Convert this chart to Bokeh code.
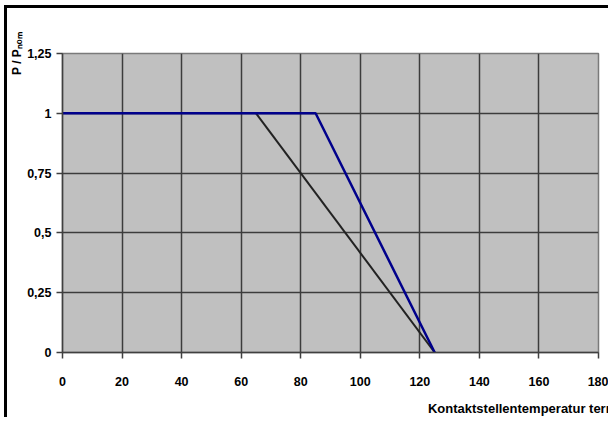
from bokeh.plotting import figure
from bokeh.models import FixedTicker, Range1d
from bokeh.embed import file_html
from bokeh.resources import INLINE

# data
x_ticks = [0, 20, 40, 60, 80, 100, 120, 140, 160, 180]
y_ticks = [0, 0.25, 0.5, 0.75, 1, 1.25]
y_tick_labels = ["0", "0,25", "0,5", "0,75", "1", "1,25"]

blue_x = [0, 85, 125]
blue_y = [1, 1, 0]
black_x = [65, 125]
black_y = [1, 0]

x_label = "Kontaktstellentemperatur terminal temperature T\u2096 / [°C]"
y_label = "P / P\u2099\u2092\u2098"

FONT = "Liberation Sans"

p = figure(width=604, height=412, output_backend="svg", toolbar_location=None,
           x_range=Range1d(0, 180), y_range=Range1d(0, 1.25),
           min_border_left=51, min_border_right=13, min_border_top=45, min_border_bottom=68,
           background_fill_color="#C0C0C0", border_fill_color="white")
p.styles = {"border-top": "3px solid black", "border-left": "3px solid black",
            "margin-left": "4px", "margin-top": "5px"}
p.outline_line_color = "#7a7a7a"
p.outline_line_width = 1.5

for ax in (p.xaxis, p.yaxis):
    ax.major_label_text_font = FONT
    ax.major_label_text_font_style = "bold"
    ax.major_label_text_font_size = "12.5px"
    ax.major_label_text_color = "black"
    ax.axis_line_color = "#404040"
    ax.axis_line_width = 1.5
    ax.major_tick_line_color = "#404040"
    ax.major_tick_line_width = 1.5
    ax.major_tick_in = 0
    ax.major_tick_out = 6
    ax.minor_tick_line_color = None
    ax.axis_label_text_font = FONT
    ax.axis_label_text_font_style = "bold"
    ax.axis_label_text_color = "black"
    ax.axis_label_align = "end"

p.xaxis.ticker = FixedTicker(ticks=x_ticks)
p.yaxis.ticker = FixedTicker(ticks=y_ticks)
p.yaxis.major_label_overrides = {t: l for t, l in zip(y_ticks, y_tick_labels)}
p.xaxis.major_label_standoff = 18
p.yaxis.major_label_standoff = 5

p.xaxis.axis_label = x_label
p.xaxis.axis_label_text_font_size = "13px"
p.xaxis.axis_label_standoff = 12
p.yaxis.axis_label = y_label
p.yaxis.axis_label_text_font_size = "12px"
p.yaxis.axis_label_standoff = 0

p.xgrid.ticker = FixedTicker(ticks=x_ticks)
p.ygrid.ticker = FixedTicker(ticks=y_ticks)
for g in (p.xgrid, p.ygrid):
    g.grid_line_color = "#3c3c3c"
    g.grid_line_width = 1.5

p.line(black_x, black_y, line_color="#222222", line_width=2)
p.line(blue_x, blue_y, line_color="#00008B", line_width=2.5)

open("out.html", "w").write(file_html(p, INLINE))
